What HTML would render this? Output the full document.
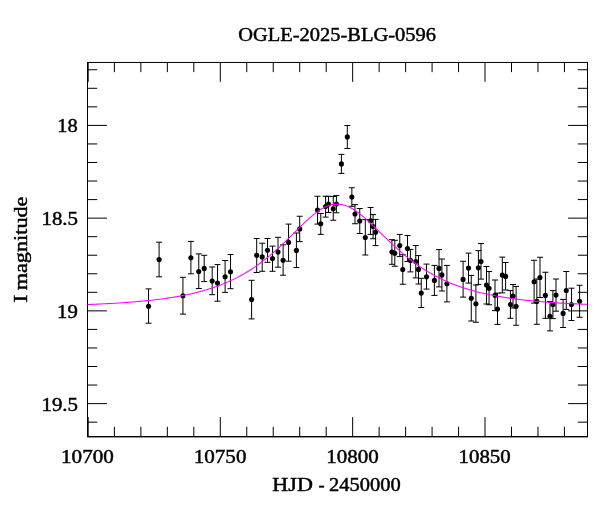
<!DOCTYPE html>
<html><head><meta charset="utf-8"><title>OGLE-2025-BLG-0596</title>
<style>html,body{margin:0;padding:0;background:#fff}svg{display:block}text{font-family:"Liberation Serif",serif;font-size:19px;fill:#000;stroke:#000;stroke-width:0.45px}</style></head><body>
<svg width="600" height="512" viewBox="0 0 600 512">
<rect width="600" height="512" fill="#fff"/>
<path d="M88.20 62.45v19.4M88.20 436.5v-19.4M114.39 62.45v9.7M114.39 436.5v-9.7M140.87 62.45v9.7M140.87 436.5v-9.7M167.34 62.45v9.7M167.34 436.5v-9.7M193.82 62.45v9.7M193.82 436.5v-9.7M220.29 62.45v19.4M220.29 436.5v-19.4M246.76 62.45v9.7M246.76 436.5v-9.7M273.24 62.45v9.7M273.24 436.5v-9.7M299.71 62.45v9.7M299.71 436.5v-9.7M326.19 62.45v9.7M326.19 436.5v-9.7M352.66 62.45v19.4M352.66 436.5v-19.4M379.13 62.45v9.7M379.13 436.5v-9.7M405.61 62.45v9.7M405.61 436.5v-9.7M432.08 62.45v9.7M432.08 436.5v-9.7M458.56 62.45v9.7M458.56 436.5v-9.7M485.03 62.45v19.4M485.03 436.5v-19.4M511.50 62.45v9.7M511.50 436.5v-9.7M537.98 62.45v9.7M537.98 436.5v-9.7M564.45 62.45v9.7M564.45 436.5v-9.7M87.5 69.76h9.7M587.5 69.76h-9.7M87.5 88.31h9.7M587.5 88.31h-9.7M87.5 106.85h9.7M587.5 106.85h-9.7M87.5 125.40h19.4M587.5 125.40h-19.4M87.5 143.95h9.7M587.5 143.95h-9.7M87.5 162.49h9.7M587.5 162.49h-9.7M87.5 181.04h9.7M587.5 181.04h-9.7M87.5 199.59h9.7M587.5 199.59h-9.7M87.5 218.13h19.4M587.5 218.13h-19.4M87.5 236.68h9.7M587.5 236.68h-9.7M87.5 255.23h9.7M587.5 255.23h-9.7M87.5 273.78h9.7M587.5 273.78h-9.7M87.5 292.32h9.7M587.5 292.32h-9.7M87.5 310.87h19.4M587.5 310.87h-19.4M87.5 329.42h9.7M587.5 329.42h-9.7M87.5 347.96h9.7M587.5 347.96h-9.7M87.5 366.51h9.7M587.5 366.51h-9.7M87.5 385.06h9.7M587.5 385.06h-9.7M87.5 403.61h19.4M587.5 403.61h-19.4M87.5 422.15h9.7M587.5 422.15h-9.7" stroke="#000" stroke-width="1" fill="none"/>
<rect x="87.5" y="62.45" width="500.0" height="374.05" fill="none" stroke="#000" stroke-width="1"/>
<rect x="87.0" y="436.9" width="501.0" height="0.5" fill="#000"/>
<path d="M148.55 288.90V323.20M145.55 288.90h6M145.55 323.20h6M159.10 242.20V276.80M156.10 242.20h6M156.10 276.80h6M182.95 277.30V314.10M179.95 277.30h6M179.95 314.10h6M190.90 241.40V273.80M187.90 241.40h6M187.90 273.80h6M198.75 253.90V288.50M195.75 253.90h6M195.75 288.50h6M204.20 255.30V281.60M201.20 255.30h6M201.20 281.60h6M212.20 267.00V294.70M209.20 267.00h6M209.20 294.70h6M217.50 264.60V301.20M214.50 264.60h6M214.50 301.20h6M225.10 260.50V292.40M222.10 260.50h6M222.10 292.40h6M230.50 254.50V288.70M227.50 254.50h6M227.50 288.70h6M251.60 280.30V318.90M248.60 280.30h6M248.60 318.90h6M256.70 238.50V272.50M253.70 238.50h6M253.70 272.50h6M262.20 243.20V271.30M259.20 243.20h6M259.20 271.30h6M267.50 238.50V262.30M264.50 238.50h6M264.50 262.30h6M272.50 246.10V271.30M269.50 246.10h6M269.50 271.30h6M278.00 237.30V267.20M275.00 237.30h6M275.00 267.20h6M283.10 244.80V275.20M280.10 244.80h6M280.10 275.20h6M288.55 224.10V261.20M285.55 224.10h6M285.55 261.20h6M296.40 233.00V267.60M293.40 233.00h6M293.40 267.60h6M299.70 216.25V241.60M296.70 216.25h6M296.70 241.60h6M317.50 196.25V224.10M314.50 196.25h6M314.50 224.10h6M320.75 213.50V234.40M317.75 213.50h6M317.75 234.40h6M325.60 196.25V217.10M322.60 196.25h6M322.60 217.10h6M328.50 196.25V212.50M325.50 196.25h6M325.50 212.50h6M333.25 196.50V220.25M330.25 196.50h6M330.25 220.25h6M336.40 195.60V212.75M333.40 195.60h6M333.40 212.75h6M341.40 154.40V173.40M338.40 154.40h6M338.40 173.40h6M347.30 125.50V148.50M344.30 125.50h6M344.30 148.50h6M351.85 187.75V206.30M348.85 187.75h6M348.85 206.30h6M355.00 204.60V223.75M352.00 204.60h6M352.00 223.75h6M359.75 208.50V233.50M356.75 208.50h6M356.75 233.50h6M365.30 219.60V255.00M362.30 219.60h6M362.30 255.00h6M370.60 207.50V234.40M367.60 207.50h6M367.60 234.40h6M373.10 214.60V238.75M370.10 214.60h6M370.10 238.75h6M375.60 219.40V245.60M372.60 219.40h6M372.60 245.60h6M391.90 239.70V264.30M388.90 239.70h6M388.90 264.30h6M394.80 240.30V266.25M391.80 240.30h6M391.80 266.25h6M399.75 234.40V256.60M396.75 234.40h6M396.75 256.60h6M402.75 254.75V284.25M399.75 254.75h6M399.75 284.25h6M407.50 235.50V261.50M404.50 235.50h6M404.50 261.50h6M410.40 249.40V271.90M407.40 249.40h6M407.40 271.90h6M415.75 245.50V277.90M412.75 245.50h6M412.75 277.90h6M418.50 255.60V284.00M415.50 255.60h6M415.50 284.00h6M421.25 278.30V307.50M418.25 278.30h6M418.25 307.50h6M426.50 264.10V289.10M423.50 264.10h6M423.50 289.10h6M434.40 265.40V295.40M431.40 265.40h6M431.40 295.40h6M439.00 249.60V286.90M436.00 249.60h6M436.00 286.90h6M441.90 259.00V291.00M438.90 259.00h6M438.90 291.00h6M446.90 265.40V301.90M443.90 265.40h6M443.90 301.90h6M463.10 261.25V297.10M460.10 261.25h6M460.10 297.10h6M468.50 253.10V283.10M465.50 253.10h6M465.50 283.10h6M471.25 275.40V321.00M468.25 275.40h6M468.25 321.00h6M475.90 285.00V322.25M472.90 285.00h6M472.90 322.25h6M478.40 250.60V284.40M475.40 250.60h6M475.40 284.40h6M481.00 243.50V279.10M478.00 243.50h6M478.00 279.10h6M486.50 266.50V304.00M483.50 266.50h6M483.50 304.00h6M489.05 271.50V304.75M486.05 271.50h6M486.05 304.75h6M495.00 280.00V310.60M492.00 280.00h6M492.00 310.60h6M497.50 293.10V324.40M494.50 293.10h6M494.50 324.40h6M502.30 257.10V292.90M499.30 257.10h6M499.30 292.90h6M505.60 262.50V290.00M502.60 262.50h6M502.60 290.00h6M513.00 284.50V308.00M510.00 284.50h6M510.00 308.00h6M510.40 290.60V318.30M507.40 290.60h6M507.40 318.30h6M516.10 286.40V325.25M513.10 286.40h6M513.10 325.25h6M534.10 260.25V303.10M531.10 260.25h6M531.10 303.10h6M540.00 257.25V297.50M537.00 257.25h6M537.00 297.50h6M536.85 279.00V324.30M533.85 279.00h6M533.85 324.30h6M545.40 272.25V318.30M542.40 272.25h6M542.40 318.30h6M550.00 301.50V330.90M547.00 301.50h6M547.00 330.90h6M552.90 290.60V318.60M549.90 290.60h6M549.90 318.60h6M556.00 279.00V311.20M553.00 279.00h6M553.00 311.20h6M563.10 299.40V327.50M560.10 299.40h6M560.10 327.50h6M566.25 271.50V309.40M563.25 271.50h6M563.25 309.40h6M571.50 288.20V320.50M568.50 288.20h6M568.50 320.50h6M579.60 285.25V317.25M576.60 285.25h6M576.60 317.25h6" stroke="#000" stroke-width="1" fill="none"/>
<g fill="#000"><circle cx="148.55" cy="306.25" r="2.55"/><circle cx="159.10" cy="259.60" r="2.55"/><circle cx="182.95" cy="295.70" r="2.55"/><circle cx="190.90" cy="257.80" r="2.55"/><circle cx="198.75" cy="271.50" r="2.55"/><circle cx="204.20" cy="268.40" r="2.55"/><circle cx="212.20" cy="281.05" r="2.55"/><circle cx="217.50" cy="283.00" r="2.55"/><circle cx="225.10" cy="276.80" r="2.55"/><circle cx="230.50" cy="271.70" r="2.55"/><circle cx="251.60" cy="299.60" r="2.55"/><circle cx="256.70" cy="255.30" r="2.55"/><circle cx="262.20" cy="256.90" r="2.55"/><circle cx="267.50" cy="250.20" r="2.55"/><circle cx="272.50" cy="258.60" r="2.55"/><circle cx="278.00" cy="252.00" r="2.55"/><circle cx="283.10" cy="260.20" r="2.55"/><circle cx="288.55" cy="242.40" r="2.55"/><circle cx="296.40" cy="250.40" r="2.55"/><circle cx="299.70" cy="228.90" r="2.55"/><circle cx="317.50" cy="210.00" r="2.55"/><circle cx="320.75" cy="223.75" r="2.55"/><circle cx="325.60" cy="206.50" r="2.55"/><circle cx="328.50" cy="204.00" r="2.55"/><circle cx="333.25" cy="208.75" r="2.55"/><circle cx="336.40" cy="204.00" r="2.55"/><circle cx="341.40" cy="163.90" r="2.55"/><circle cx="347.30" cy="136.90" r="2.55"/><circle cx="351.85" cy="197.00" r="2.55"/><circle cx="355.00" cy="214.00" r="2.55"/><circle cx="359.75" cy="221.00" r="2.55"/><circle cx="365.30" cy="237.50" r="2.55"/><circle cx="370.60" cy="220.80" r="2.55"/><circle cx="373.10" cy="226.50" r="2.55"/><circle cx="375.60" cy="232.25" r="2.55"/><circle cx="391.90" cy="252.00" r="2.55"/><circle cx="394.80" cy="253.35" r="2.55"/><circle cx="399.75" cy="245.60" r="2.55"/><circle cx="402.75" cy="269.50" r="2.55"/><circle cx="407.50" cy="248.50" r="2.55"/><circle cx="410.40" cy="260.40" r="2.55"/><circle cx="415.75" cy="261.60" r="2.55"/><circle cx="418.50" cy="269.40" r="2.55"/><circle cx="421.25" cy="293.10" r="2.55"/><circle cx="426.50" cy="276.85" r="2.55"/><circle cx="434.40" cy="280.40" r="2.55"/><circle cx="439.00" cy="268.40" r="2.55"/><circle cx="441.90" cy="274.90" r="2.55"/><circle cx="446.90" cy="283.75" r="2.55"/><circle cx="463.10" cy="279.40" r="2.55"/><circle cx="468.50" cy="268.10" r="2.55"/><circle cx="471.25" cy="298.20" r="2.55"/><circle cx="475.90" cy="303.75" r="2.55"/><circle cx="478.40" cy="267.75" r="2.55"/><circle cx="481.00" cy="261.50" r="2.55"/><circle cx="486.50" cy="285.10" r="2.55"/><circle cx="489.05" cy="288.25" r="2.55"/><circle cx="495.00" cy="295.30" r="2.55"/><circle cx="497.50" cy="309.00" r="2.55"/><circle cx="502.30" cy="275.10" r="2.55"/><circle cx="505.60" cy="276.40" r="2.55"/><circle cx="513.00" cy="296.10" r="2.55"/><circle cx="510.40" cy="304.60" r="2.55"/><circle cx="516.10" cy="306.25" r="2.55"/><circle cx="534.10" cy="281.75" r="2.55"/><circle cx="540.00" cy="277.50" r="2.55"/><circle cx="536.85" cy="301.40" r="2.55"/><circle cx="545.40" cy="295.40" r="2.55"/><circle cx="550.00" cy="316.25" r="2.55"/><circle cx="552.90" cy="304.60" r="2.55"/><circle cx="556.00" cy="295.10" r="2.55"/><circle cx="563.10" cy="313.40" r="2.55"/><circle cx="566.25" cy="290.50" r="2.55"/><circle cx="571.50" cy="304.50" r="2.55"/><circle cx="579.60" cy="301.25" r="2.55"/></g>
<path d="M87.5 304.53 L89.5 304.45 L91.5 304.37 L93.5 304.28 L95.5 304.20 L97.5 304.11 L99.5 304.02 L101.5 303.92 L103.5 303.82 L105.5 303.72 L107.5 303.62 L109.5 303.51 L111.5 303.40 L113.5 303.28 L115.5 303.17 L117.5 303.04 L119.5 302.92 L121.5 302.79 L123.5 302.65 L125.5 302.51 L127.5 302.36 L129.5 302.21 L131.5 302.06 L133.5 301.90 L135.5 301.73 L137.5 301.56 L139.5 301.38 L141.5 301.20 L143.5 301.01 L145.5 300.81 L147.5 300.61 L149.5 300.40 L151.5 300.18 L153.5 299.96 L155.5 299.72 L157.5 299.48 L159.5 299.23 L161.5 298.97 L163.5 298.70 L165.5 298.42 L167.5 298.13 L169.5 297.83 L171.5 297.52 L173.5 297.19 L175.5 296.86 L177.5 296.51 L179.5 296.15 L181.5 295.78 L183.5 295.39 L185.5 294.99 L187.5 294.58 L189.5 294.15 L191.5 293.70 L193.5 293.24 L195.5 292.76 L197.5 292.26 L199.5 291.74 L201.5 291.21 L203.5 290.65 L205.5 290.07 L207.5 289.47 L209.5 288.85 L211.5 288.21 L213.5 287.55 L215.5 286.85 L217.5 286.14 L219.5 285.39 L221.5 284.62 L223.5 283.83 L225.5 283.00 L227.5 282.14 L229.5 281.26 L231.5 280.34 L233.5 279.39 L235.5 278.40 L237.5 277.39 L239.5 276.33 L241.5 275.24 L243.5 274.12 L245.5 272.96 L247.5 271.75 L249.5 270.51 L251.5 269.24 L253.5 267.92 L255.5 266.56 L257.5 265.15 L259.5 263.71 L261.5 262.23 L263.5 260.70 L265.5 259.14 L267.5 257.53 L269.5 255.88 L271.5 254.19 L273.5 252.47 L275.5 250.70 L277.5 248.90 L279.5 247.07 L281.5 245.21 L283.5 243.31 L285.5 241.39 L287.5 239.45 L289.5 237.48 L291.5 235.51 L293.5 233.52 L295.5 231.53 L297.5 229.55 L299.5 227.57 L301.5 225.61 L303.5 223.68 L305.5 221.78 L307.5 219.92 L309.5 218.11 L311.5 216.37 L313.5 214.70 L315.5 213.12 L317.5 211.63 L319.5 210.25 L321.5 208.98 L323.5 207.84 L325.5 206.84 L327.5 205.99 L329.5 205.28 L331.5 204.74 L333.5 204.36 L335.5 204.15 L337.5 204.12 L339.5 204.25 L341.5 204.54 L343.5 204.99 L345.5 205.61 L347.5 206.37 L349.5 207.28 L351.5 208.32 L353.5 209.49 L355.5 210.78 L357.5 212.18 L359.5 213.68 L361.5 215.27 L363.5 216.93 L365.5 218.66 L367.5 220.45 L369.5 222.29 L371.5 224.16 L373.5 226.07 L375.5 228.00 L377.5 229.94 L379.5 231.89 L381.5 233.85 L383.5 235.80 L385.5 237.74 L387.5 239.66 L389.5 241.57 L391.5 243.45 L393.5 245.31 L395.5 247.14 L397.5 248.94 L399.5 250.71 L401.5 252.44 L403.5 254.14 L405.5 255.79 L407.5 257.42 L409.5 259.00 L411.5 260.54 L413.5 262.04 L415.5 263.50 L417.5 264.93 L419.5 266.31 L421.5 267.65 L423.5 268.96 L425.5 270.22 L427.5 271.45 L429.5 272.64 L431.5 273.79 L433.5 274.91 L435.5 275.99 L437.5 277.03 L439.5 278.05 L441.5 279.02 L443.5 279.97 L445.5 280.88 L447.5 281.77 L449.5 282.62 L451.5 283.45 L453.5 284.24 L455.5 285.01 L457.5 285.76 L459.5 286.47 L461.5 287.17 L463.5 287.83 L465.5 288.48 L467.5 289.10 L469.5 289.70 L471.5 290.28 L473.5 290.84 L475.5 291.38 L477.5 291.90 L479.5 292.40 L481.5 292.89 L483.5 293.35 L485.5 293.81 L487.5 294.24 L489.5 294.66 L491.5 295.07 L493.5 295.46 L495.5 295.83 L497.5 296.20 L499.5 296.55 L501.5 296.89 L503.5 297.22 L505.5 297.53 L507.5 297.84 L509.5 298.13 L511.5 298.42 L513.5 298.69 L515.5 298.96 L517.5 299.21 L519.5 299.46 L521.5 299.70 L523.5 299.93 L525.5 300.15 L527.5 300.37 L529.5 300.58 L531.5 300.78 L533.5 300.97 L535.5 301.16 L537.5 301.34 L539.5 301.52 L541.5 301.69 L543.5 301.85 L545.5 302.01 L547.5 302.17 L549.5 302.31 L551.5 302.46 L553.5 302.60 L555.5 302.73 L557.5 302.86 L559.5 302.99 L561.5 303.11 L563.5 303.23 L565.5 303.34 L567.5 303.46 L569.5 303.56 L571.5 303.67 L573.5 303.77 L575.5 303.87 L577.5 303.96 L579.5 304.05 L581.5 304.14 L583.5 304.23 L585.5 304.31 L587.5 304.39" stroke="#ff00ff" stroke-width="1.05" fill="none"/>
<text x="238.29" y="41.4" textLength="197.60" lengthAdjust="spacingAndGlyphs">OGLE-2025-BLG-0596</text>
<text x="57.36" y="132.4" textLength="20.44" lengthAdjust="spacingAndGlyphs">18</text>
<text x="41.46" y="225.1" textLength="36.61" lengthAdjust="spacingAndGlyphs">18.5</text>
<text x="57.08" y="317.9" textLength="20.75" lengthAdjust="spacingAndGlyphs">19</text>
<text x="41.46" y="410.6" textLength="36.61" lengthAdjust="spacingAndGlyphs">19.5</text>
<text x="61.07" y="462.8" textLength="52.78" lengthAdjust="spacingAndGlyphs">10700</text>
<text x="193.77" y="462.8" textLength="52.67" lengthAdjust="spacingAndGlyphs">10750</text>
<text x="326.20" y="462.8" textLength="52.47" lengthAdjust="spacingAndGlyphs">10800</text>
<text x="458.58" y="462.8" textLength="52.11" lengthAdjust="spacingAndGlyphs">10850</text>
<text y="491.2"><tspan x="272.34" textLength="40.51" lengthAdjust="spacingAndGlyphs">HJD</tspan><tspan> </tspan><tspan x="318.54" textLength="6.12" lengthAdjust="spacingAndGlyphs">-</tspan><tspan> </tspan><tspan x="329.09" textLength="71.69" lengthAdjust="spacingAndGlyphs">2450000</tspan></text>
<text transform="translate(26.7 0) rotate(-90)" y="0"><tspan x="-302.86" textLength="8.09" lengthAdjust="spacingAndGlyphs">I</tspan><tspan> </tspan><tspan x="-290.29" textLength="93.76" lengthAdjust="spacingAndGlyphs">magnitude</tspan></text>
</svg></body></html>
